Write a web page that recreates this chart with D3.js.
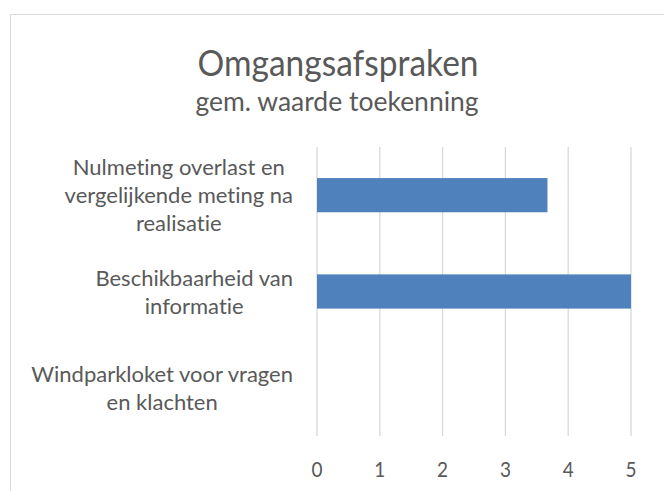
<!DOCTYPE html>
<html lang="nl">
  <head>
    <meta charset="utf-8">
    <title>Omgangsafspraken</title>
    <style>
      body { margin: 0; background: #fff; }
      text { font-family: Lato, "Open Sans", sans-serif; fill: #595959; font-variant-ligatures: none; }
      .grid line { stroke: #d9d9d9; stroke-width: 1.3px; }
    </style>
  </head>
  <body>
    <svg width="664" height="491"></svg>
  </body>
  <script src="https://cdn.jsdelivr.net/npm/d3@7"></script>
  <script>
  // data
  var categories = [
    ["Nulmeting overlast en", "vergelijkende meting na", "realisatie"],
    ["Beschikbaarheid van", "informatie"],
    ["Windparkloket voor vragen", "en klachten"]
  ];
  var values = [3.67, 5, 0];
  var ticks = [0, 1, 2, 3, 4, 5];
  var title = "Omgangsafspraken";
  var subtitle = "gem. waarde toekenning";

  var svg = d3.select("svg");

  // outer chart border
  svg.append("rect")
    .attr("x", 10.5).attr("y", 14.5)
    .attr("width", 700).attr("height", 520)
    .attr("fill", "none").attr("stroke", "#d9d9d9");

  function label(g, str, x, y, size, sy, anchor) {
    return g.append("text")
      .attr("transform", "translate(" + x + "," + y + ") scale(1," + sy + ")")
      .attr("text-anchor", anchor || "middle")
      .style("font-size", size + "px")
      .text(str);
  }

  label(svg, title, 338, 76, 33.5, 1.12);
  label(svg, subtitle, 337, 111, 26.5, 1);

  var x = d3.scaleLinear().domain([0, 5]).range([317, 631]);
  var y = d3.scaleBand().domain(d3.range(categories.length)).range([147, 436]).paddingInner(0.645).paddingOuter(0.3225);

  var grid = svg.append("g").attr("class", "grid");
  grid.selectAll("line").data(ticks).enter().append("line")
    .attr("x1", function(d) { return x(d); })
    .attr("x2", function(d) { return x(d); })
    .attr("y1", 147).attr("y2", 436);

  svg.append("g").selectAll("rect").data(values).enter().append("rect")
    .attr("x", x(0))
    .attr("y", function(d, i) { return y(i); })
    .attr("width", function(d) { return x(d) - x(0); })
    .attr("height", y.bandwidth())
    .attr("fill", "#4f81bd");

  var tickG = svg.append("g");
  ticks.forEach(function(t) {
    label(tickG, String(t), x(t), 476.5, 19, 1.1);
  });

  // category labels: block right aligned, lines centered inside it
  var catG = svg.append("g");
  categories.forEach(function(lines, i) {
    var cy = y(i) + y.bandwidth() / 2;
    var ly = function(j) { return cy + (j - (lines.length - 1) / 2) * 28 + 8; };
    var texts = lines.map(function(s, j) {
      return label(catG, s, 0, ly(j), 22, 1);
    });
    var w = d3.max(texts, function(t) { return t.node().getComputedTextLength(); });
    var cx = 293 - w / 2;
    texts.forEach(function(t, j) {
      t.attr("transform", "translate(" + cx + "," + ly(j) + ")");
    });
  });
  </script>
</html>
